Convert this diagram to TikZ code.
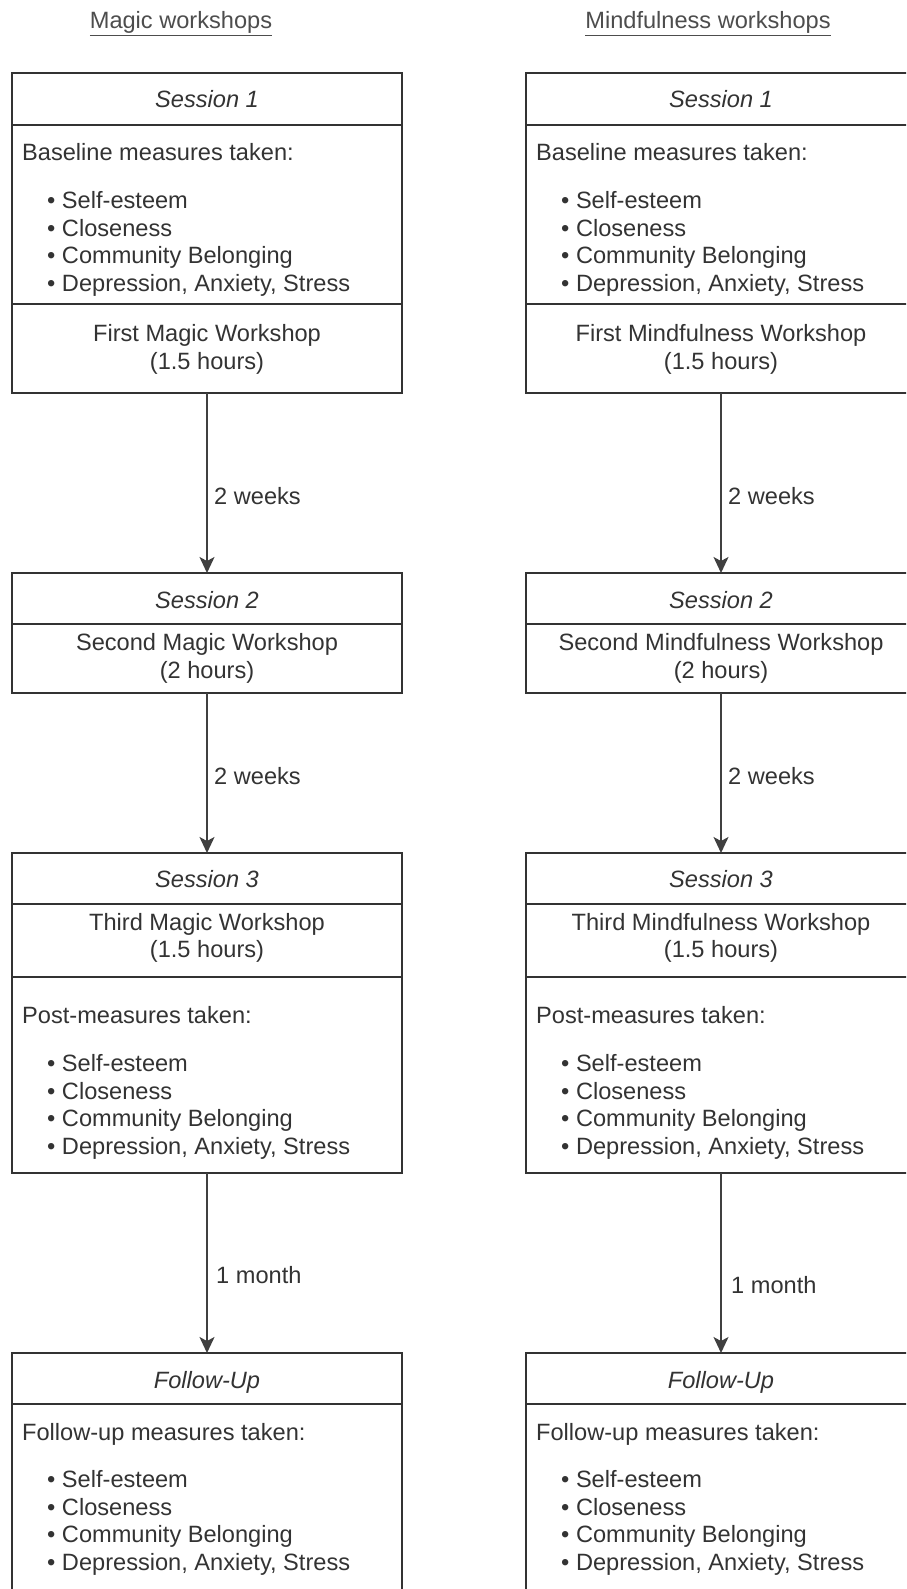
\documentclass[tikz,border=0pt]{standalone}
\usepackage{fontspec}
\setmainfont{Liberation Sans}
\usetikzlibrary{arrows.meta}
\definecolor{ln}{HTML}{333333}
\definecolor{ar}{HTML}{404040}
\definecolor{tx}{HTML}{333333}
\definecolor{tt}{HTML}{4D4D4D}
\tikzset{
  box/.style={draw=ln, line width=1.6pt, minimum width=390pt, inner sep=0pt, outer sep=0pt, anchor=north, fill=white},
  sep/.style={draw=ln, line width=1.6pt},
  txt/.style={font=\fontsize{23.6}{28}\selectfont, text=tx, inner sep=0pt, text height=17pt, text depth=0pt},
  hdr/.style={txt, font=\fontsize{23.6}{28}\selectfont\itshape},
  ttl/.style={txt, text=tt},
  arr/.style={draw=ar, line width=1.6pt, -{Stealth[width=15pt,length=16pt,inset=4pt]}}
}
\newcommand\wlist[2]{%
  \node[txt, anchor=west] (#1a) at (47,#2) {• Self-esteem};
  \node[txt, anchor=west] (#1b) at (47,{#2+27.7}) {• Closeness};
  \node[txt, anchor=west] (#1c) at (47,{#2+55.4}) {• Community Belonging};
  \node[txt, anchor=west] (#1d) at (47,{#2+83.1}) {• Depression, Anxiety, Stress};
}
\newcommand\wcol[5]{%
  % #1 x offset, #2 prefix, #3 workshop name, #4 title x (local), #5 title
  \begin{scope}[xshift=#1pt]
    \node[ttl] (#2title) at (#4,20) {\underline{#5}};
    % Session 1
    \node[box, minimum height=320pt] (#2s1) at (207,73) {};
    \draw[sep] (#2s1.west |- 0,125) -- (#2s1.east |- 0,125);
    \draw[sep] (#2s1.west |- 0,304) -- (#2s1.east |- 0,304);
    \node[hdr] (#2s1h) at (207,99) {Session 1};
    \node[txt, anchor=west] (#2s1m) at (22,152) {Baseline measures taken:};
    \wlist{#2s1l}{200}
    \node[txt] (#2s1w) at (207,333) {First #3 Workshop};
    \node[txt] (#2s1d) at (207,361) {(1.5 hours)};
    % Session 2
    \node[box, minimum height=120pt] (#2s2) at (207,573) {};
    \draw[sep] (#2s2.west |- 0,624) -- (#2s2.east |- 0,624);
    \node[hdr] (#2s2h) at (207,600) {Session 2};
    \node[txt] (#2s2w) at (207,642) {Second #3 Workshop};
    \node[txt] (#2s2d) at (207,670) {(2 hours)};
    % Session 3
    \node[box, minimum height=320pt] (#2s3) at (207,853) {};
    \draw[sep] (#2s3.west |- 0,904) -- (#2s3.east |- 0,904);
    \draw[sep] (#2s3.west |- 0,977) -- (#2s3.east |- 0,977);
    \node[hdr] (#2s3h) at (207,879) {Session 3};
    \node[txt] (#2s3w) at (207,922) {Third #3 Workshop};
    \node[txt] (#2s3d) at (207,949) {(1.5 hours)};
    \node[txt, anchor=west] (#2s3m) at (22,1015) {Post-measures taken:};
    \wlist{#2s3l}{1063}
    % Follow-up
    \node[box, minimum height=270pt] (#2fu) at (207,1353) {};
    \draw[sep] (#2fu.west |- 0,1404) -- (#2fu.east |- 0,1404);
    \node[hdr] (#2fuh) at (207,1380) {Follow-Up};
    \node[txt, anchor=west] (#2fum) at (22,1432) {Follow-up measures taken:};
    \wlist{#2ful}{1479}
    % connectors
    \draw[arr] (#2s1.south) -- (#2s2.north);
    \draw[arr] (#2s2.south) -- (#2s3.north);
    \draw[arr] (#2s3.south) -- (#2fu.north);
    \node[txt, anchor=west] (#2a1) at (214,496) {2 weeks};
    \node[txt, anchor=west] (#2a2) at (214,776) {2 weeks};
  \end{scope}}
\begin{document}
\begin{tikzpicture}[x=1pt,y=-1pt]
  \useasboundingbox (0,0) rectangle (906,1589);
  \clip (0,0) rectangle (906,1589);
  \fill[white] (0,0) rectangle (906,1589);
  \wcol{0}{L}{Magic}{181}{Magic workshops}
  \wcol{514}{R}{Mindfulness}{194}{Mindfulness workshops}
  \node[txt, anchor=west] (La3) at (216,1275) {1 month};
  \node[txt, anchor=west] (Ra3) at (731,1285) {1 month};
\end{tikzpicture}
\end{document}
